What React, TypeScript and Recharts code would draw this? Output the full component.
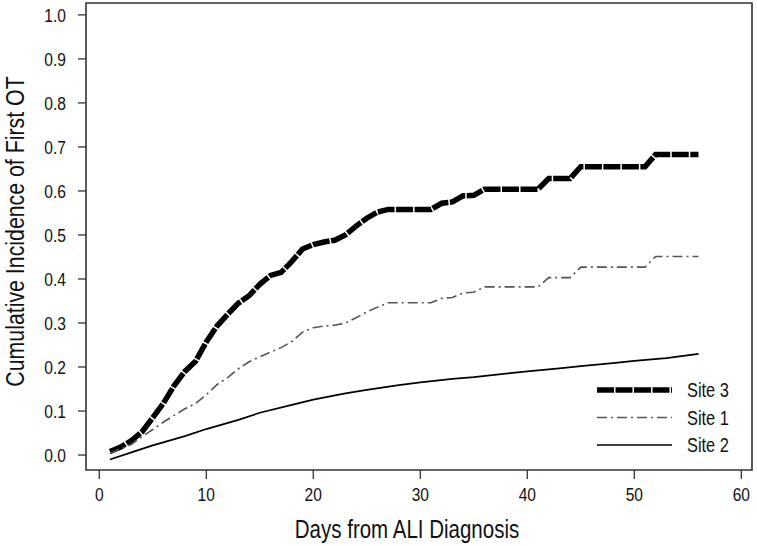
import { LineChart, Line, XAxis, YAxis, ReferenceArea } from 'recharts';

const FONT = '"Liberation Sans", Arial, sans-serif';
const NARROW = 0.82; // horizontal squeeze to mimic a condensed face

// days 1..56 shared by Site 3 and Site 1
const days = [
  1, 2, 3, 4, 5, 6, 7, 8, 9, 10, 11, 12, 13, 14, 15, 16, 17, 18, 19, 20,
  21, 22, 23, 24, 25, 26, 27, 28, 29, 30, 31, 32, 33, 34, 35, 36, 37, 38, 39, 40,
  41, 42, 43, 44, 45, 46, 47, 48, 49, 50, 51, 52, 53, 54, 55, 56,
];

const site3 = [
  0.008, 0.018, 0.033, 0.053, 0.085, 0.118, 0.158, 0.19, 0.213, 0.257,
  0.293, 0.32, 0.345, 0.362, 0.388, 0.408, 0.415, 0.44, 0.468, 0.478,
  0.484, 0.488, 0.5, 0.52, 0.538, 0.552, 0.558, 0.558, 0.558, 0.558,
  0.558, 0.572, 0.575, 0.589, 0.59, 0.604, 0.604, 0.604, 0.604, 0.604,
  0.604, 0.628, 0.628, 0.628, 0.655, 0.655, 0.655, 0.655, 0.655, 0.655,
  0.655, 0.683, 0.683, 0.683, 0.683, 0.683,
];

const site1 = [
  0.004, 0.015, 0.024, 0.042, 0.058, 0.075, 0.09, 0.105, 0.117, 0.137,
  0.16, 0.176, 0.196, 0.212, 0.223, 0.234, 0.244, 0.258, 0.279, 0.289,
  0.293, 0.295, 0.3, 0.312, 0.325, 0.336, 0.346, 0.346, 0.346, 0.346,
  0.346, 0.356, 0.358, 0.368, 0.37, 0.382, 0.382, 0.382, 0.382, 0.382,
  0.382, 0.403, 0.403, 0.403, 0.427, 0.427, 0.427, 0.427, 0.427, 0.427,
  0.427, 0.451, 0.451, 0.451, 0.451, 0.451,
];

const site2Days = [1, 3, 5, 8, 10, 13, 15, 18, 20, 23, 25, 28, 30, 33, 35, 38, 40, 43, 45, 48, 50, 53, 56];
const site2 = [
  -0.01, 0.006, 0.022, 0.043, 0.059, 0.08, 0.096, 0.114, 0.126, 0.14, 0.148, 0.159,
  0.165, 0.173, 0.177, 0.185, 0.19, 0.197, 0.202, 0.209, 0.214, 0.22, 0.23,
];

const xTicks = [0, 10, 20, 30, 40, 50, 60];
const yTicks = [0, 0.1, 0.2, 0.3, 0.4, 0.5, 0.6, 0.7, 0.8, 0.9, 1.0];
const X_DOMAIN: [number, number] = [-1.24, 61];
const Y_DOMAIN: [number, number] = [-0.034, 1.027];

const toRows = (xs: number[], ys: number[]) => xs.map((d, i) => ({ day: d, value: ys[i] }));

const series = [
  { name: 'Site 3', data: toRows(days, site3), stroke: '#000', width: 5.5, dash: '17 1.5' },
  { name: 'Site 1', data: toRows(days, site1), stroke: '#555', width: 1.6, dash: '10 4 2 4' },
  { name: 'Site 2', data: toRows(site2Days, site2), stroke: '#000', width: 1.7, dash: undefined },
];

function XTick({ x, y, payload }: any) {
  return (
    <text
      transform={`translate(${x},${y}) scale(${NARROW},1)`}
      dy="0.71em"
      textAnchor="middle"
      fontSize={19}
      fontFamily={FONT}
      fill="#111"
    >
      {payload.value}
    </text>
  );
}

function YTick({ x, y, payload }: any) {
  return (
    <text
      transform={`translate(${x},${y}) scale(${NARROW},1)`}
      dy="0.36em"
      textAnchor="end"
      fontSize={19}
      fontFamily={FONT}
      fill="#111"
    >
      {Number(payload.value).toFixed(1)}
    </text>
  );
}

function XTitle({ viewBox }: any) {
  const cx = viewBox.x + viewBox.width / 2 - 12;
  const by = viewBox.y + viewBox.height - 8;
  return (
    <text
      transform={`translate(${cx},${by}) scale(${NARROW},1)`}
      textAnchor="middle"
      fontSize={25}
      fontFamily={FONT}
      fill="#111"
    >
      Days from ALI Diagnosis
    </text>
  );
}

function YTitle({ viewBox }: any) {
  const cy = viewBox.y + viewBox.height / 2 - 5;
  return (
    <text
      transform={`translate(24,${cy}) rotate(-90) scale(${NARROW},1)`}
      textAnchor="middle"
      fontSize={26}
      fontFamily={FONT}
      fill="#111"
    >
      Cumulative Incidence of First OT
    </text>
  );
}

function LegendBox() {
  return (
    <svg width={150} height={85} style={{ display: 'block' }}>
      {series.map((s, i) => (
        <g key={s.name}>
          <line
            x1={2}
            x2={77}
            y1={14 + i * 27.5}
            y2={14 + i * 27.5}
            stroke={s.stroke}
            strokeWidth={s.width}
            strokeDasharray={s.dash}
          />
          <text
            transform={`translate(92,${14 + i * 27.5 + 7}) scale(${NARROW},1)`}
            fontSize={20}
            fontFamily={FONT}
            fill="#111"
          >
            {s.name}
          </text>
        </g>
      ))}
    </svg>
  );
}

export default function App() {
  return (
    <div style={{ position: 'relative', width: 757, height: 546, background: '#fff' }}>
      <style>{`body{margin:0}`}</style>
      <LineChart width={757} height={546} margin={{ top: 3, right: 5, bottom: 0, left: 0 }}>
        <XAxis
          dataKey="day"
          type="number"
          domain={X_DOMAIN}
          ticks={xTicks}
          allowDataOverflow
          height={76}
          axisLine={false}
          tickSize={9}
          tickMargin={9}
          tickLine={{ stroke: '#333', strokeWidth: 1.3 }}
          tick={<XTick />}
          label={<XTitle />}
        />
        <YAxis
          type="number"
          domain={Y_DOMAIN}
          ticks={yTicks}
          allowDataOverflow
          width={86}
          axisLine={false}
          tickSize={8}
          tickMargin={12}
          tickLine={{ stroke: '#333', strokeWidth: 1.3 }}
          tick={<YTick />}
          label={<YTitle />}
        />
        <ReferenceArea
          x1={X_DOMAIN[0]}
          x2={X_DOMAIN[1]}
          y1={Y_DOMAIN[0]}
          y2={Y_DOMAIN[1]}
          fill="none"
          stroke="#333"
          strokeWidth={1.6}
        />
        {series.map((s) => (
          <Line
            key={s.name}
            data={s.data}
            dataKey="value"
            name={s.name}
            type="linear"
            stroke={s.stroke}
            strokeWidth={s.width}
            strokeDasharray={s.dash}
            dot={false}
            activeDot={false}
            isAnimationActive={false}
          />
        ))}
      </LineChart>
      <div style={{ position: 'absolute', left: 595, top: 376 }}>
        <LegendBox />
      </div>
    </div>
  );
}
